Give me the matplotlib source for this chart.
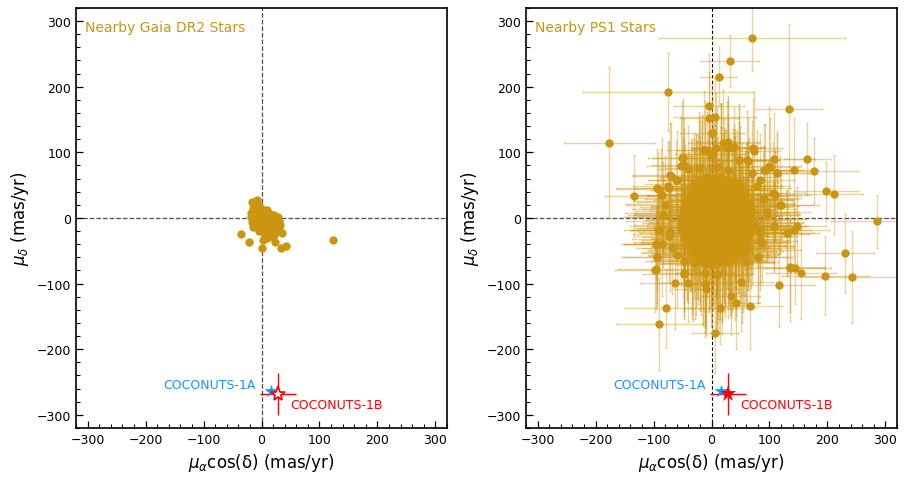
import matplotlib
matplotlib.use("Agg")
import matplotlib.pyplot as plt
from matplotlib.ticker import MultipleLocator
from matplotlib.colors import to_rgba

# ---------------- data ----------------
# Nearby Gaia DR2 stars (mas/yr)
gaia_pmra = [-17, -8, -14, -36, -21, 0, 3, 23, 34, 43, 32, 29, -14, 124, 36, 26, -10,
             -15, -7, 1, 9,
             -18, -10, -2, 6, 14, 22,
             -18, -10, -2, 6, 14, 22,
             -16, -8, 0, 8, 16, 24, 30,
             -10, -2, 6, 14, 22, 30,
             -4, 4, 12, 20, 28,
             6, 14, 22,
             -12, -5, 18, 10, 4, -14, -6, 2, 10, 18, 26, -6, 2, 10, 18]
gaia_pmdec = [25, 28, 10, -24, -36, -45, -33, -37, -46, -42, -10, 1, -13, -34, -23, -1, 18,
              15, 16, 14, 12,
              8, 9, 7, 8, 6, 5,
              1, 2, 0, 1, 0, -1,
              -6, -5, -7, -6, -5, -7, -4,
              -13, -12, -14, -13, -12, -14,
              -20, -21, -19, -22, -20,
              -27, -28, -26,
              22, 20, -28, -30, -20, -5, 4, 3, 2, 1, -9, -9, -17, -17, -17]

# Nearby PS1 stars (mas/yr): outlying stars
ps1_out_pmra = [70, 32, 12.6, -75, -4, -5, 6, 134, 1, -176, 19.5, 28.7, -12.6, -2.3, 7.5, 28,
                39, 73.6, 48, 62.6, -50.6, 108.6, 165, 177, 142, 112.6, 100, 91, -52, -41,
                -70.7, -61.5, -93, -86.8, -134, -74.7, 197, 211, 106, 110, 88.5, 120, 286,
                108, 147, 142, 131, 231, 135.6, 144, 154.6, 196, 242, 116.7, 51, -47.7,
                -62.6, -40.8, -12, -9.8, 9.8, 32.8, 43, 67, 15, -78.7, -90, -96.6, -94,
                -95, -91, -73, -84.5, 80.5, 60, 80, 87, 95, 6.4]
ps1_out_pmdec = [274, 239, 215, 192, 170, 152, 154, 166, 129, 115, 115, 116, 103, 97, 106, 107,
                 108, 102, 88, 87, 91, 90, 90, 71.6, 73, 68.5, 79, 73.6, 79, 74.6,
                 64.5, 58, 44.7, 35, 33.5, 48, 41, 36, 38.6, 35, 29, 20, -5,
                 -12.7, -12.7, -19, -23, -54, -76.6, -76.6, -84, -88, -90, -101.5, -97.5, -85,
                 -98.5, -98.5, -101, -108, -85, -119, -129, -134.5, -137.6, -137.6, -161, -78, -59,
                 -39, -18, -27, 4.6, -59, -66.5, -17, -37.6, 9.6, -175.5]
ps1_out_epmra = [160, 50, 30, 147, 60, 50, 70, 57, 55, 78, 60, 55, 45, 60, 40, 65,
                 50, 45, 70, 40, 50, 70, 40, 75, 40, 60, 55, 45, 60, 50,
                 65, 45, 70, 50, 50, 60, 55, 50, 55, 45, 60, 65, 80,
                 55, 50, 60, 45, 50, 70, 50, 60, 75, 80, 60, 55, 70,
                 60, 50, 45, 55, 60, 50, 40, 55, 60, 70, 75, 65, 55,
                 60, 50, 55, 60, 50, 55, 60, 45, 55, 40]
ps1_out_epmdec = [50, 40, 45, 60, 80, 70, 60, 130, 75, 115, 80, 70, 90, 60, 85, 75,
                  60, 90, 80, 65, 85, 70, 55, 50, 80, 60, 90, 70, 75, 65,
                  80, 60, 55, 70, 63, 70, 45, 60, 75, 65, 70, 50, 40,
                  70, 60, 55, 65, 60, 80, 55, 70, 60, 70, 65, 75, 65,
                  70, 60, 80, 70, 75, 60, 70, 65, 55, 60, 70, 60, 70,
                  55, 65, 70, 60, 70, 65, 55, 60, 70, 60]

# Nearby PS1 stars: ring of stars around the dense core
ps1_edge_pmra = [-50, -48, -71, -60, -94, -86, -74, -80, -83, -91, -94, -86, -94, -97,
                 -71, -68, -60, -48, -48, -28, -11, 9, 32, 49, 61, 81, 84, 84, 95, 107,
                 118, 110, 90, 78, 84, 101, 113, 93, 70, 61, 47, 26, 1, -12, -21, 9, 29,
                 72, 130, 136, -20, -8, 4, 16, 28, 40, -30, 50]
ps1_edge_pmdec = [92, 81, 65, 58, 45, 35, 46, 20, 5, -18, -39, -39, -59, -79,
                  -21, -46, -56, -66, -84, -69, -84, -87, -64, -56, -46, -59, -34, -21, 5, -12,
                  20, 35, 30, 48, 58, 78, 68, 73, 68, 88, 88, 106, 98, 104, 76, 78, 73,
                  106, -23, -74, 58, 62, 60, 63, 58, 55, 52, 50]
ps1_edge_epmra = [60, 55, 65, 50, 70, 55, 60, 65, 50, 60, 55, 65, 60, 70,
                  55, 60, 50, 65, 55, 60, 50, 55, 60, 65, 55, 60, 50, 65, 55, 60,
                  55, 60, 65, 55, 60, 50, 55, 65, 60, 55, 50, 60, 55, 65, 60, 55, 65,
                  50, 55, 60, 70, 80, 60, 90, 65, 75, 85, 60]
ps1_edge_epmdec = [90, 70, 80, 75, 60, 85, 70, 75, 80, 65, 70, 80, 75, 65,
                   90, 70, 80, 75, 70, 85, 90, 80, 75, 70, 85, 70, 75, 80, 70, 65,
                   75, 70, 80, 85, 70, 75, 65, 70, 80, 75, 85, 70, 80, 75, 85, 90, 70,
                   75, 65, 70, 90, 100, 85, 75, 95, 80, 70, 90]

# Nearby PS1 stars: dense core (first group)
ps1_core_pmra = [-5, 6, 17, 26,
                 -27, -16, -5, 6, 17, 28, 39, 48,
                 -38, -27, -16, -5, 6, 17, 28, 39, 50, 59,
                 -45, -34, -23, -12, -1, 10, 21, 32, 43, 54, 65,
                 -50, -39, -28, -17, -6, 5, 16, 27, 38, 49, 60, 70,
                 -53, -42, -31, -20, -9, 2, 13, 24, 35, 46, 57, 68,
                 -52, -41, -30, -19, -8, 3, 14, 25, 36, 47, 58, 69,
                 -53, -42, -31, -20, -9, 2, 13, 24, 35, 46, 57, 68,
                 -48, -37, -26, -15, -4, 7, 18, 29, 40, 51, 62,
                 -43, -32, -21, -10, 1, 12, 23, 34, 45, 56,
                 -34, -23, -12, -1, 10, 21, 32, 43, 54,
                 -20, -9, 2, 13, 24, 35,
                 -12, 0, 12]
ps1_core_pmdec = [52, 49, 53, 48,
                  41, 38, 42, 39, 43, 40, 38, 42,
                  31, 28, 32, 29, 31, 28, 32, 29, 31, 28,
                  21, 18, 22, 19, 21, 18, 22, 19, 21, 18, 22,
                  11, 8, 12, 9, 11, 8, 12, 9, 11, 8, 12, 9,
                  1, -2, 2, -1, 1, -2, 2, -1, 1, -2, 2, -1,
                  -9, -12, -8, -11, -9, -12, -8, -11, -9, -12, -8, -11,
                  -19, -22, -18, -21, -19, -22, -18, -21, -19, -22, -18, -21,
                  -29, -32, -28, -31, -29, -32, -28, -31, -29, -32, -28,
                  -39, -42, -38, -41, -39, -42, -38, -41, -39, -42,
                  -49, -52, -48, -51, -49, -52, -48, -51, -49,
                  -59, -62, -58, -61, -59, -62,
                  -70, -72, -69]
ps1_core_epmra = [60, 85, 40, 95,
                  70, 45, 100, 55, 80, 35, 90, 60,
                  95, 50, 75, 110, 40, 85, 65, 100, 45, 80,
                  105, 60, 40, 90, 70, 115, 50, 85, 60, 95, 75,
                  80, 110, 55, 70, 100, 45, 90, 120, 65, 85, 50, 100,
                  95, 70, 120, 50, 85, 105, 60, 90, 75, 110, 55, 95,
                  60, 100, 80, 115, 45, 90, 70, 125, 55, 85, 100, 65,
                  85, 55, 95, 70, 110, 40, 100, 60, 90, 75, 115, 50,
                  70, 100, 60, 90, 45, 110, 80, 55, 95, 70, 85,
                  90, 65, 100, 55, 80, 115, 60, 95, 70, 85,
                  75, 95, 50, 105, 70, 90, 60, 80, 100,
                  65, 90, 110, 55, 85, 70,
                  80, 60, 95]
ps1_core_epmdec = [100, 70, 120, 60,
                   85, 110, 65, 95, 130, 55, 80, 105,
                   70, 100, 125, 60, 90, 110, 75, 95, 65, 85,
                   90, 60, 105, 130, 80, 70, 115, 55, 95, 75, 100,
                   110, 75, 95, 60, 120, 85, 100, 70, 130, 65, 90, 80,
                   60, 100, 80, 125, 70, 110, 90, 135, 75, 95, 60, 85,
                   95, 70, 115, 85, 100, 130, 65, 105, 80, 120, 70, 90,
                   70, 105, 85, 120, 95, 75, 110, 80, 125, 65, 100, 85,
                   100, 80, 120, 65, 110, 90, 130, 75, 95, 85, 70,
                   85, 115, 70, 100, 125, 80, 95, 110, 75, 90,
                   90, 70, 110, 85, 120, 75, 100, 65, 95,
                   80, 105, 70, 115, 90, 75,
                   95, 110, 85]

# Nearby PS1 stars: dense core (second group)
ps1_core2_pmra = [-16, -5, 6, 17, 28, 37,
                  -33, -22, -11, 0, 11, 22, 33, 44, 53,
                  -41, -30, -19, -8, 3, 14, 25, 36, 47, 58,
                  -48, -37, -26, -15, -4, 7, 18, 29, 40, 51, 62,
                  -47, -36, -25, -14, -3, 8, 19, 30, 41, 52, 63,
                  -47, -36, -25, -14, -3, 8, 19, 30, 41, 52, 63, 72,
                  -47, -36, -25, -14, -3, 8, 19, 30, 41, 52, 63,
                  -45, -34, -23, -12, -1, 10, 21, 32, 43, 54, 64,
                  -40, -29, -18, -7, 4, 15, 26, 37, 48, 59,
                  -34, -23, -12, -1, 10, 21, 32, 43, 52,
                  -26, -15, -4, 7, 18, 29, 40,
                  -15, -4, 7, 18, 28]
ps1_core2_pmdec = [46, 44, 47, 45, 43, 46,
                   36, 34, 37, 35, 33, 36, 34, 37, 35,
                   26, 24, 27, 25, 23, 26, 24, 27, 25, 23,
                   16, 14, 17, 15, 13, 16, 14, 17, 15, 13, 16,
                   6, 4, 7, 5, 3, 6, 4, 7, 5, 3, 6,
                   -4, -6, -3, -5, -7, -4, -6, -3, -5, -7, -4, -6,
                   -14, -16, -13, -15, -17, -14, -16, -13, -15, -17, -14,
                   -24, -26, -23, -25, -27, -24, -26, -23, -25, -27, -24,
                   -34, -36, -33, -35, -37, -34, -36, -33, -35, -37,
                   -44, -46, -43, -45, -47, -44, -46, -43, -45,
                   -54, -56, -53, -55, -57, -54, -56,
                   -64, -66, -63, -65, -67]
ps1_core2_epmra = [70, 95, 50, 85, 60, 100,
                   55, 90, 75, 110, 45, 80, 100, 65, 85,
                   95, 60, 80, 120, 50, 90, 70, 105, 55, 85,
                   75, 100, 55, 90, 115, 65, 80, 110, 60, 95, 70,
                   85, 60, 105, 70, 125, 55, 95, 80, 110, 65, 90,
                   100, 70, 90, 55, 115, 80, 60, 105, 75, 95, 50, 85,
                   65, 95, 75, 110, 50, 90, 120, 60, 85, 100, 70,
                   90, 55, 100, 80, 65, 115, 75, 95, 55, 85, 105,
                   80, 105, 60, 90, 125, 70, 95, 55, 100, 75,
                   70, 95, 85, 60, 110, 80, 65, 100, 90,
                   95, 65, 85, 110, 70, 90, 60,
                   75, 100, 60, 90, 80]
ps1_core2_epmdec = [110, 75, 95, 130, 70, 90,
                    85, 120, 65, 100, 90, 115, 70, 95, 80,
                    70, 105, 90, 65, 125, 80, 110, 75, 100, 85,
                    120, 80, 100, 70, 95, 130, 75, 90, 110, 65, 100,
                    90, 115, 70, 105, 80, 100, 125, 65, 95, 85, 110,
                    75, 100, 120, 85, 65, 110, 95, 130, 70, 90, 105, 80,
                    105, 70, 95, 125, 80, 100, 65, 115, 90, 75, 95,
                    85, 120, 75, 95, 110, 70, 100, 85, 125, 90, 70,
                    95, 75, 115, 85, 100, 120, 70, 105, 80, 90,
                    110, 85, 70, 120, 90, 100, 75, 95, 115,
                    80, 105, 90, 70, 120, 85, 100,
                    100, 75, 115, 90, 85]

ps1_pmra = ps1_out_pmra + ps1_edge_pmra + ps1_core_pmra + ps1_core2_pmra
ps1_pmdec = ps1_out_pmdec + ps1_edge_pmdec + ps1_core_pmdec + ps1_core2_pmdec
ps1_epmra = ps1_out_epmra + ps1_edge_epmra + ps1_core_epmra + ps1_core2_epmra
ps1_epmdec = ps1_out_epmdec + ps1_edge_epmdec + ps1_core_epmdec + ps1_core2_epmdec

# COCONUTS-1 components
pmA = (17.0, -264.0)
epmA = (1.0, 1.0)
pmB = (28.0, -268.0)
epmB = (31.0, 32.0)

panel_titles = ["Nearby Gaia DR2 Stars", "Nearby PS1 Stars"]
xlabel = r"$\mu_\alpha$cos(δ) (mas/yr)"
ylabel = r"$\mu_\delta$ (mas/yr)"

# ---------------- style ----------------
gold = "#CC9511"
gold_err = to_rgba(gold, 0.4)
blue = "#1E90FF"

fig = plt.figure(figsize=(9.08, 4.85), dpi=100)
ax1 = fig.add_axes([0.0837, 0.1155, 0.4086, 0.866])
ax2 = fig.add_axes([0.5793, 0.1155, 0.4086, 0.866])


def style_axis(ax, title):
    ax.set_xlim(-320, 320)
    ax.set_ylim(-320, 320)
    ax.xaxis.set_major_locator(MultipleLocator(100))
    ax.yaxis.set_major_locator(MultipleLocator(100))
    ax.xaxis.set_minor_locator(MultipleLocator(20))
    ax.yaxis.set_minor_locator(MultipleLocator(20))
    ax.tick_params(which="both", direction="in", top=False, right=False, labelsize=9)
    ax.tick_params(which="major", length=5, width=0.9)
    ax.tick_params(which="minor", length=3, width=0.8)
    for s in ax.spines.values():
        s.set_linewidth(1.2)
    ax.set_xlabel(xlabel, fontsize=12)
    ax.set_ylabel(ylabel, fontsize=12)
    ax.text(0.025, 0.972, title, transform=ax.transAxes, ha="left", va="top",
            fontsize=10, color=gold)


# Left panel: Gaia
ax1.axvline(0, color="0.3", ls="--", lw=0.9, zorder=1)
ax1.axhline(0, color="0.3", ls="--", lw=0.9, zorder=1)
ax1.plot(gaia_pmra, gaia_pmdec, "o", color=gold, ms=6, mew=0, zorder=3)
ax1.errorbar(pmB[0], pmB[1], xerr=epmB[0], yerr=epmB[1], fmt="none", ecolor="red",
             elinewidth=1, zorder=4)
ax1.errorbar(pmA[0], pmA[1], xerr=epmA[0], yerr=epmA[1], fmt="*", color=blue, ms=9,
             mew=0.5, zorder=5)
ax1.plot(pmB[0], pmB[1], "*", mfc="white", mec="red", ms=11, mew=1.2, zorder=6)
style_axis(ax1, panel_titles[0])
ax1.text(pmA[0] - 27, pmA[1] + 10, "COCONUTS-1A", color=blue, fontsize=9,
         ha="right", va="center")
ax1.text(pmB[0] + 21, pmB[1] - 16, "COCONUTS-1B", color="red", fontsize=9,
         ha="left", va="center")

# Right panel: PS1
ax2.axhline(0, color="0.3", ls="--", lw=0.9, zorder=1)
ax2.axvline(0, color="k", ls=(0, (3, 2)), lw=0.8, zorder=1)
ax2.errorbar(ps1_pmra, ps1_pmdec, xerr=ps1_epmra, yerr=ps1_epmdec, fmt="none",
             ecolor=gold_err, elinewidth=1, capsize=1, capthick=1, zorder=2)
ax2.plot(ps1_pmra, ps1_pmdec, "o", color=gold, ms=6, mew=0, zorder=3)
ax2.errorbar(pmB[0], pmB[1], xerr=epmB[0], yerr=epmB[1], fmt="none", ecolor="red",
             elinewidth=1, zorder=4)
ax2.errorbar(pmA[0], pmA[1], xerr=epmA[0], yerr=epmA[1], fmt="*", color=blue, ms=9,
             mew=0.5, zorder=5)
ax2.plot(pmB[0], pmB[1], "*", color="red", ms=12, mew=0, zorder=6)
style_axis(ax2, panel_titles[1])
ax2.text(pmA[0] - 27, pmA[1] + 10, "COCONUTS-1A", color=blue, fontsize=9,
         ha="right", va="center")
ax2.text(pmB[0] + 21, pmB[1] - 16, "COCONUTS-1B", color="red", fontsize=9,
         ha="left", va="center")

fig.savefig("out.png", dpi=100)
